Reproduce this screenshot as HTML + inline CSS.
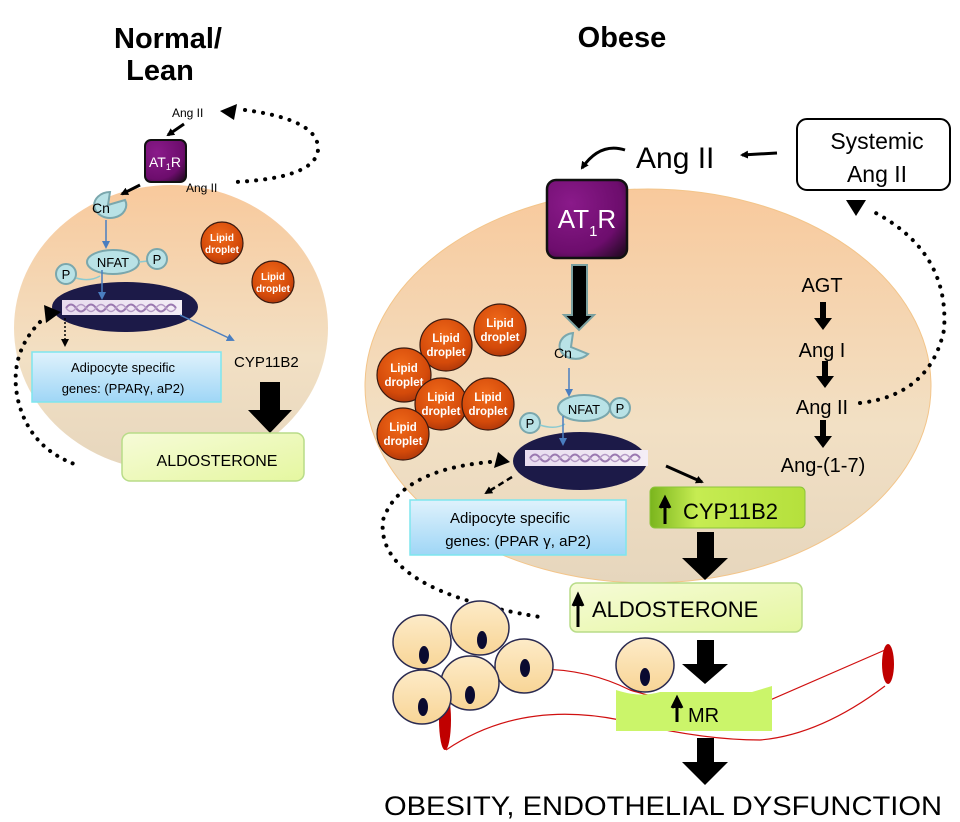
<!DOCTYPE html>
<html><head><meta charset="utf-8"><style>
html,body{margin:0;padding:0;background:#fff}
svg{display:block}
text{font-family:"Liberation Sans",Arial,sans-serif}
</style></head><body>
<svg width="960" height="822" viewBox="0 0 960 822" xmlns="http://www.w3.org/2000/svg">
<defs>
<linearGradient id="cell" x1="0" y1="0" x2="0" y2="1">
<stop offset="0" stop-color="#f8c99c"/><stop offset="0.6" stop-color="#f2e0c4"/><stop offset="1" stop-color="#e6d6bd"/></linearGradient>
<linearGradient id="blue" x1="0" y1="0" x2="0" y2="1">
<stop offset="0" stop-color="#dff2fc"/><stop offset="1" stop-color="#9fd6f6"/></linearGradient>
<linearGradient id="yel" x1="0" y1="0" x2="1" y2="1">
<stop offset="0" stop-color="#f6fbd8"/><stop offset="1" stop-color="#e5f7a0"/></linearGradient>
<linearGradient id="grn" x1="0" y1="0" x2="1" y2="0">
<stop offset="0" stop-color="#7ab51d"/><stop offset="0.3" stop-color="#c6ec52"/><stop offset="1" stop-color="#b5e03c"/></linearGradient>
<radialGradient id="pur" cx="0.3" cy="0.3" r="0.9">
<stop offset="0" stop-color="#8a1a8a"/><stop offset="0.7" stop-color="#6d0d6d"/><stop offset="1" stop-color="#2a0a2a"/></radialGradient>
<radialGradient id="lip" cx="0.45" cy="0.35" r="0.7">
<stop offset="0" stop-color="#f06a1a"/><stop offset="0.7" stop-color="#d44a0a"/><stop offset="1" stop-color="#a8340a"/></radialGradient>
<linearGradient id="adip" x1="0" y1="0" x2="0" y2="1">
<stop offset="0" stop-color="#fdebc8"/><stop offset="1" stop-color="#f8d596"/></linearGradient>
<linearGradient id="dna" x1="0" y1="0" x2="1" y2="0">
<stop offset="0" stop-color="#e8dcef"/><stop offset="1" stop-color="#f4eef6"/></linearGradient>
<marker id="ah" markerWidth="8" markerHeight="8" refX="6" refY="4" orient="auto" markerUnits="userSpaceOnUse"><path d="M0,0 L8,4 L0,8 z" fill="#000"/></marker>
<marker id="ahb" markerWidth="8" markerHeight="8" refX="6" refY="4" orient="auto" markerUnits="userSpaceOnUse"><path d="M0,0 L8,4 L0,8 z" fill="#4a7ec0"/></marker>
</defs>

<text x="168" y="48" font-size="29" font-weight="bold" text-anchor="middle">Normal/</text>
<text x="160" y="80" font-size="29" font-weight="bold" text-anchor="middle">Lean</text>
<text x="622" y="47" font-size="29" font-weight="bold" text-anchor="middle">Obese</text>

<ellipse cx="171" cy="328" rx="157" ry="143" fill="url(#cell)"/>
<text x="172" y="117" font-size="12">Ang II</text>
<line x1="184" y1="124" x2="168" y2="135" stroke="#000" stroke-width="3" marker-end="url(#ah)"/>
<rect x="145" y="140" width="41" height="42" rx="6" fill="url(#pur)" stroke="#111" stroke-width="2"/>
<text x="165" y="167" font-size="14" fill="#fff" text-anchor="middle">AT<tspan font-size="9" dy="3">1</tspan><tspan dy="-3">R</tspan></text>
<text x="186" y="192" font-size="12">Ang II</text>
<line x1="140" y1="185" x2="122" y2="194" stroke="#000" stroke-width="3" marker-end="url(#ah)"/>
<path d="M220,111 L237,104 L234,120 z" fill="#000"/>
<path d="M245,110 Q320,120 318,150 Q315,178 235,182" fill="none" stroke="#000" stroke-width="4" stroke-dasharray="0.1 9" stroke-linecap="round"/>
<path d="M125,200 A16,13 0 1 1 110,192 L108,205 z" fill="#b9e2e6" stroke="#7aa7ad" stroke-width="2"/>
<text x="101" y="213" font-size="14" text-anchor="middle">Cn</text>
<line x1="106" y1="220" x2="106" y2="247" stroke="#4a7ec0" stroke-width="1.5" marker-end="url(#ahb)"/>
<ellipse cx="113" cy="262" rx="26" ry="12" fill="#b9e2e6" stroke="#7aa7ad" stroke-width="2"/>
<text x="113" y="267" font-size="13" text-anchor="middle">NFAT</text>
<line x1="139" y1="262" x2="148" y2="261" stroke="#8ccad0" stroke-width="1.5"/>
<circle cx="157" cy="259" r="10" fill="#b9e2e6" stroke="#7aa7ad" stroke-width="2"/>
<text x="157" y="264" font-size="13" text-anchor="middle">P</text>
<circle cx="66" cy="274" r="10" fill="#b9e2e6" stroke="#7aa7ad" stroke-width="2"/>
<text x="66" y="279" font-size="13" text-anchor="middle">P</text>
<path d="M76,278 Q90,282 100,276" fill="none" stroke="#8ccad0" stroke-width="1.5"/>
<ellipse cx="125" cy="307" rx="73" ry="25" fill="#1c1a48"/>
<rect x="62" y="300" width="120" height="15" fill="url(#dna)"/>
<path d="M66,308 q5,-7 10,0 t10,0 t10,0 t10,0 t10,0 t10,0 t10,0 t10,0 t10,0 t10,0 t10,0" fill="none" stroke="#9a78b0" stroke-width="2"/>
<path d="M66,308 q5,7 10,0 t10,0 t10,0 t10,0 t10,0 t10,0 t10,0 t10,0 t10,0 t10,0 t10,0" fill="none" stroke="#b59ac6" stroke-width="1.5"/>
<line x1="102" y1="270" x2="102" y2="298" stroke="#4a7ec0" stroke-width="1.5" marker-end="url(#ahb)"/>
<line x1="180" y1="315" x2="233" y2="340" stroke="#4a7ec0" stroke-width="1.5" marker-end="url(#ahb)"/>
<line x1="65" y1="318" x2="65" y2="345" stroke="#000" stroke-width="1.5" stroke-dasharray="2 2" marker-end="url(#ah)"/>
<rect x="32" y="352" width="189" height="50" fill="url(#blue)" stroke="#7ee6ee" stroke-width="1.5"/>
<text x="123" y="372" font-size="13" text-anchor="middle">Adipocyte specific</text>
<text x="123" y="393" font-size="13" text-anchor="middle">genes: (PPAR&#947;, aP2)</text>
<text x="234" y="367" font-size="15">CYP11B2</text>
<path d="M260,382 L280,382 L280,410 L292,410 L270,433 L248,410 L260,410 z" fill="#000"/>
<rect x="122" y="433" width="182" height="48" rx="8" fill="url(#yel)" stroke="#b8dc88" stroke-width="1.5"/>
<text x="217" y="466" font-size="16" text-anchor="middle">ALDOSTERONE</text>
<circle cx="222" cy="243" r="21" fill="url(#lip)" stroke="#3a1a10" stroke-width="1.2"/>
<text x="222" y="241" font-size="10" fill="#fff" text-anchor="middle" font-weight="bold">Lipid</text>
<text x="222" y="253" font-size="10" fill="#fff" text-anchor="middle" font-weight="bold">droplet</text>
<circle cx="273" cy="282" r="21" fill="url(#lip)" stroke="#3a1a10" stroke-width="1.2"/>
<text x="273" y="280" font-size="10" fill="#fff" text-anchor="middle" font-weight="bold">Lipid</text>
<text x="273" y="292" font-size="10" fill="#fff" text-anchor="middle" font-weight="bold">droplet</text>
<path d="M44,305 L61,312 L46,323 z" fill="#000"/>
<path d="M40,322 Q8,355 18,400 Q30,450 80,466" fill="none" stroke="#000" stroke-width="4" stroke-dasharray="0.1 8.5" stroke-linecap="round"/>

<ellipse cx="648" cy="386" rx="283" ry="197" fill="url(#cell)" stroke="#f3c58a" stroke-width="1"/>
<rect x="797" y="119" width="153" height="71" rx="10" fill="#fff" stroke="#000" stroke-width="2"/>
<text x="877" y="149" font-size="23" text-anchor="middle">Systemic</text>
<text x="877" y="182" font-size="23" text-anchor="middle">Ang II</text>
<line x1="777" y1="153" x2="742" y2="155" stroke="#000" stroke-width="3" marker-end="url(#ah)"/>
<text x="636" y="168" font-size="30">Ang II</text>
<path d="M625,150 Q600,142 582,168" fill="none" stroke="#000" stroke-width="3" marker-end="url(#ah)"/>
<rect x="547" y="180" width="80" height="78" rx="9" fill="url(#pur)" stroke="#111" stroke-width="2.5"/>
<text x="587" y="228" font-size="26" fill="#fff" text-anchor="middle">AT<tspan font-size="15" dy="8">1</tspan><tspan dy="-8">R</tspan></text>
<path d="M572,265 L587,265 L587,315 L594,315 L579,330 L564,315 L572,315 z" fill="#000" stroke="#7aa0a0" stroke-width="2"/>
<path d="M588,354 A16,13 0 1 1 573,333 L571,347 z" fill="#b9e2e6" stroke="#7aa7ad" stroke-width="2"/>
<text x="563" y="358" font-size="14" text-anchor="middle">Cn</text>
<line x1="569" y1="368" x2="569" y2="395" stroke="#4a7ec0" stroke-width="1.5" marker-end="url(#ahb)"/>
<ellipse cx="584" cy="408" rx="26" ry="13" fill="#b9e2e6" stroke="#7aa7ad" stroke-width="2"/>
<text x="584" y="414" font-size="13" text-anchor="middle">NFAT</text>
<circle cx="620" cy="408" r="10" fill="#b9e2e6" stroke="#7aa7ad" stroke-width="2"/>
<text x="620" y="413" font-size="13" text-anchor="middle">P</text>
<circle cx="530" cy="423" r="10" fill="#b9e2e6" stroke="#7aa7ad" stroke-width="2"/>
<text x="530" y="428" font-size="13" text-anchor="middle">P</text>
<path d="M540,425 Q555,430 565,424" fill="none" stroke="#8ccad0" stroke-width="1.5"/>
<ellipse cx="580" cy="461" rx="67" ry="29" fill="#1c1a48"/>
<rect x="525" y="450" width="123" height="16" fill="url(#dna)"/>
<path d="M530,458 q5,-7 10,0 t10,0 t10,0 t10,0 t10,0 t10,0 t10,0 t10,0 t10,0 t10,0 t10,0" fill="none" stroke="#9a78b0" stroke-width="2"/>
<path d="M530,458 q5,7 10,0 t10,0 t10,0 t10,0 t10,0 t10,0 t10,0 t10,0 t10,0 t10,0 t10,0" fill="none" stroke="#b59ac6" stroke-width="1.5"/>
<line x1="563" y1="416" x2="563" y2="444" stroke="#4a7ec0" stroke-width="1.5" marker-end="url(#ahb)"/>
<line x1="666" y1="466" x2="702" y2="482" stroke="#000" stroke-width="3" marker-end="url(#ah)"/>
<line x1="512" y1="477" x2="486" y2="493" stroke="#000" stroke-width="2.5" stroke-dasharray="6 4" marker-end="url(#ah)"/>
<rect x="410" y="500" width="216" height="55" fill="url(#blue)" stroke="#7ee6ee" stroke-width="1.5"/>
<text x="510" y="523" font-size="15" text-anchor="middle">Adipocyte specific</text>
<text x="518" y="546" font-size="15" text-anchor="middle">genes: (PPAR &#947;, aP2)</text>
<rect x="650" y="487" width="155" height="41" rx="5" fill="url(#grn)" stroke="#8cc43a" stroke-width="1"/>
<path d="M665,524 L665,502 M660,508 L665,498 L670,508" stroke="#000" stroke-width="3" fill="#000"/>
<text x="683" y="519" font-size="22">CYP11B2</text>
<path d="M697,532 L714,532 L714,558 L728,558 L705,580 L682,558 L697,558 z" fill="#000"/>
<rect x="570" y="583" width="232" height="49" rx="7" fill="url(#yel)" stroke="#b8dc88" stroke-width="1.5"/>
<path d="M578,627 L578,600 M573,606 L578,595 L583,606" stroke="#000" stroke-width="3" fill="#000"/>
<text x="592" y="617" font-size="22">ALDOSTERONE</text>

<g font-size="11.5" fill="#fff" text-anchor="middle" font-weight="bold">
<circle cx="500" cy="330" r="26" fill="url(#lip)" stroke="#3a1a10" stroke-width="1.2"/><text x="500" y="327">Lipid</text><text x="500" y="341">droplet</text>
<circle cx="446" cy="345" r="26" fill="url(#lip)" stroke="#3a1a10" stroke-width="1.2"/><text x="446" y="342">Lipid</text><text x="446" y="356">droplet</text>
<circle cx="404" cy="375" r="27" fill="url(#lip)" stroke="#3a1a10" stroke-width="1.2"/><text x="404" y="372">Lipid</text><text x="404" y="386">droplet</text>
<circle cx="441" cy="404" r="26" fill="url(#lip)" stroke="#3a1a10" stroke-width="1.2"/><text x="441" y="401">Lipid</text><text x="441" y="415">droplet</text>
<circle cx="488" cy="404" r="26" fill="url(#lip)" stroke="#3a1a10" stroke-width="1.2"/><text x="488" y="401">Lipid</text><text x="488" y="415">droplet</text>
<circle cx="403" cy="434" r="26" fill="url(#lip)" stroke="#3a1a10" stroke-width="1.2"/><text x="403" y="431">Lipid</text><text x="403" y="445">droplet</text>
</g>

<g font-size="20" text-anchor="middle">
<text x="822" y="292">AGT</text>
<text x="822" y="357">Ang I</text>
<text x="822" y="414">Ang II</text>
<text x="823" y="472">Ang-(1-7)</text>
</g>
<path d="M820,302 L826,302 L826,318 L832,318 L823,330 L814,318 L820,318 z" fill="#000"/>
<path d="M822,361 L828,361 L828,376 L834,376 L825,388 L816,376 L822,376 z" fill="#000"/>
<path d="M820,420 L826,420 L826,436 L832,436 L823,448 L814,436 L820,436 z" fill="#000"/>
<path d="M860,403 Q930,395 944,330 Q950,250 870,210" fill="none" stroke="#000" stroke-width="4" stroke-dasharray="0.1 9" stroke-linecap="round"/>
<path d="M846,200 L866,200 L856,216 z" fill="#000"/>
<path d="M510,462 L498,452 L494,468 z" fill="#000"/>
<path d="M490,462 Q400,470 383,520 Q375,590 540,617" fill="none" stroke="#000" stroke-width="4" stroke-dasharray="0.1 9" stroke-linecap="round"/>

<path d="M520,670 Q580,665 630,690 Q700,712 770,700 L885,650" fill="none" stroke="#d01010" stroke-width="1.2"/>
<path d="M446,750 Q520,700 620,720 Q700,740 760,740 Q820,735 885,686" fill="none" stroke="#d01010" stroke-width="1.2"/>
<ellipse cx="445" cy="720" rx="6" ry="30" fill="#c00000"/>
<ellipse cx="888" cy="664" rx="6" ry="20" fill="#c00000"/>

<g stroke="#2a2a50" stroke-width="1.5" fill="url(#adip)">
<ellipse cx="422" cy="642" rx="29" ry="27"/>
<ellipse cx="480" cy="628" rx="29" ry="27"/>
<ellipse cx="524" cy="666" rx="29" ry="27"/>
<ellipse cx="470" cy="683" rx="29" ry="27"/>
<ellipse cx="422" cy="697" rx="29" ry="27"/>
<ellipse cx="645" cy="665" rx="29" ry="27"/>
</g>
<g fill="#0a0a30">
<ellipse cx="424" cy="655" rx="5" ry="9"/><ellipse cx="482" cy="640" rx="5" ry="9"/>
<ellipse cx="525" cy="668" rx="5" ry="9"/><ellipse cx="470" cy="695" rx="5" ry="9"/>
<ellipse cx="423" cy="707" rx="5" ry="9"/><ellipse cx="645" cy="677" rx="5" ry="9"/>
</g>
<path d="M697,640 L714,640 L714,664 L728,664 L705,684 L682,664 L697,664 z" fill="#000"/>
<path d="M616,690 Q640,698 660,692 L752,692 L772,686 L772,731 L616,731 z" fill="#cbf56a"/>
<path d="M677,722 L677,702 M672,708 L677,698 L682,708" stroke="#000" stroke-width="3" fill="#000"/>
<text x="688" y="722" font-size="20">MR</text>
<path d="M697,738 L714,738 L714,762 L728,762 L705,785 L682,762 L697,762 z" fill="#000"/>
<text x="663" y="815" font-size="27" text-anchor="middle" textLength="558" lengthAdjust="spacingAndGlyphs">OBESITY, ENDOTHELIAL DYSFUNCTION</text>
</svg>
</body></html>
